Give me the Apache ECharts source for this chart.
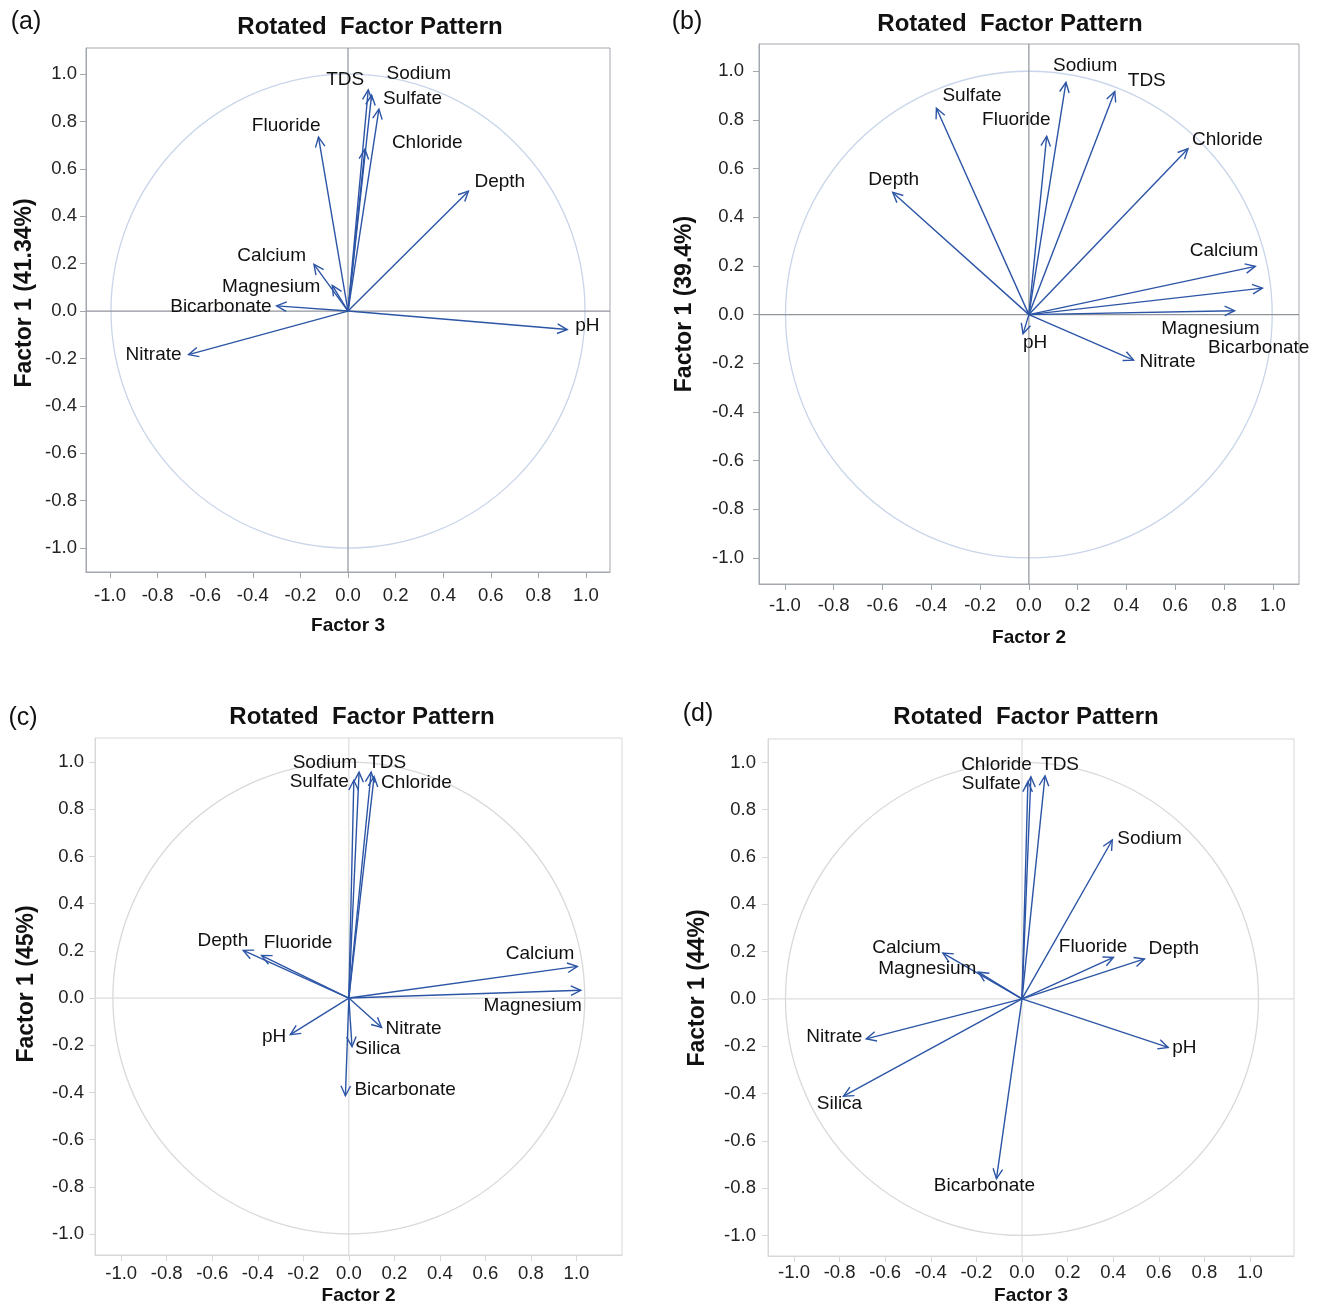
<!DOCTYPE html>
<html>
<head>
<meta charset="utf-8">
<script src="https://cdn.jsdelivr.net/npm/echarts@6/dist/echarts.min.js"></script>
<style>
html, body { margin: 0; padding: 0; background: #fff; }
#main { width: 1320px; height: 1307px; }
</style>
</head>
<body>
<div id="main"></div>
<script>
// tick values shared by every axis
const ticks = [-1.0, -0.8, -0.6, -0.4, -0.2, 0.0, 0.2, 0.4, 0.6, 0.8, 1.0]

// (a) Factor 3 (x) vs Factor 1 (y)
const namesA = ['TDS', 'Sodium', 'Sulfate', 'Chloride', 'Fluoride', 'Depth', 'Calcium', 'Magnesium', 'Bicarbonate', 'Nitrate', 'pH']
const xA = [0.085, 0.099, 0.130, 0.071, -0.124, 0.506, -0.143, -0.066, -0.300, -0.670, 0.921]
const yA = [0.933, 0.911, 0.852, 0.683, 0.734, 0.506, 0.197, 0.108, 0.022, -0.184, -0.078]

// (b) Factor 2 (x) vs Factor 1 (y)
const namesB = ['Sodium', 'TDS', 'Sulfate', 'Fluoride', 'Chloride', 'Depth', 'Calcium', 'Magnesium', 'Bicarbonate', 'Nitrate', 'pH']
const xB = [0.152, 0.352, -0.379, 0.073, 0.652, -0.558, 0.928, 0.843, 0.957, 0.429, -0.024]
const yB = [0.954, 0.917, 0.848, 0.733, 0.682, 0.502, 0.198, 0.016, 0.109, -0.187, -0.079]

// (c) Factor 2 (x) vs Factor 1 (y)
const namesC = ['Sodium', 'TDS', 'Sulfate', 'Chloride', 'Depth', 'Fluoride', 'Calcium', 'Magnesium', 'pH', 'Nitrate', 'Silica', 'Bicarbonate']
const xC = [0.045, 0.098, 0.022, 0.111, -0.464, -0.383, 1.004, 1.019, -0.257, 0.144, 0.014, -0.015]
const yC = [0.957, 0.957, 0.923, 0.938, 0.202, 0.180, 0.134, 0.033, -0.155, -0.125, -0.206, -0.414]

// (d) Factor 3 (x) vs Factor 1 (y)
const namesD = ['Chloride', 'TDS', 'Sulfate', 'Sodium', 'Fluoride', 'Depth', 'Calcium', 'Magnesium', 'Nitrate', 'Silica', 'Bicarbonate', 'pH']
const xD = [0.039, 0.101, 0.026, 0.396, 0.401, 0.537, -0.347, -0.191, -0.683, -0.783, -0.112, 0.641]
const yD = [0.939, 0.943, 0.918, 0.672, 0.176, 0.169, 0.194, 0.113, -0.169, -0.411, -0.760, -0.205]

const FONT = '"Liberation Sans", Arial, sans-serif'
const ARROW = '#2c55a6'

// 标签位置: [align, dx, dy] 相对箭头尖端 (px)
const placeA = {
  TDS: ['right', -4, -10], Sodium: ['left', 15, -21], Sulfate: ['left', 4, -10],
  Chloride: ['left', 27, -6], Fluoride: ['right', 2, -11], Depth: ['left', 6, -9],
  Calcium: ['right', -8, -9], Magnesium: ['right', -12, 1], Bicarbonate: ['right', -5, 1],
  Nitrate: ['right', -7, 0], pH: ['left', 8, -4]
}
const placeB = {
  Sodium: ['left', -13, -17], TDS: ['left', 13, -11], Sulfate: ['left', 6, -12],
  Fluoride: ['right', 4, -16], Chloride: ['left', 4, -9], Depth: ['center', 1, -13],
  Calcium: ['right', 3, -16], Magnesium: ['right', 25, 18], Bicarbonate: ['right', 47, 60],
  Nitrate: ['left', 6, 2], pH: ['left', 0, 9]
}
const placeC = {
  Sodium: ['right', -2, -9], TDS: ['left', -3, -9], Sulfate: ['right', -5, 2],
  Chloride: ['left', 7, 6], Depth: ['right', 5, -10], Fluoride: ['left', 2, -13],
  Calcium: ['right', -3, -13], Magnesium: ['right', 1, 16], pH: ['right', -4, 2],
  Nitrate: ['left', 4, 1], Silica: ['left', 3, 2], Bicarbonate: ['left', 9, -6]
}
const placeD = {
  Chloride: ['right', 1, -12], TDS: ['left', -4, -11], Sulfate: ['right', -7, 2],
  Sodium: ['left', 5, -1], Fluoride: ['right', 14, -11], Depth: ['left', 4, -10],
  Calcium: ['right', -2, -5], Magnesium: ['right', -2, -3], Nitrate: ['right', -4, -2],
  Silica: ['center', -4, 8], Bicarbonate: ['center', -12, 7], pH: ['left', 4, 0]
}

const panels = [
  { grid: { left: 86, top: 48, width: 524, height: 524 }, x: [-1.101, 1.101], y: [-1.101, 1.110],
    xName: 'Factor 3', yName: 'Factor 1 (41.34%)', names: namesA, xs: xA, ys: yA, place: placeA,
    frame: '#a3a7ae', zero: '#8f949c', circle: '#c9d5ea', lblX: 14, gapX: 44, lblY: 9, gapY: 50, padY: 34 },
  { grid: { left: 759, top: 44, width: 540, height: 540 }, x: [-1.106, 1.107], y: [-1.107, 1.112],
    xName: 'Factor 2', yName: 'Factor 1 (39.4%)', names: namesB, xs: xB, ys: yB, place: placeB,
    frame: '#a3a7ae', zero: '#8f949c', circle: '#c9d5ea', lblX: 12, gapX: 44, lblY: 15, gapY: 63, padY: 20 },
  { grid: { left: 95, top: 738, width: 527, height: 517 }, x: [-1.115, 1.200], y: [-1.089, 1.102],
    xName: 'Factor 2', yName: 'Factor 1 (45%)', names: namesC, xs: xC, ys: yC, place: placeC,
    frame: '#d8d8d8', zero: '#dcdcdc', circle: '#d9d9d9', lblX: 9, gapX: 31, lblY: 11, gapY: 57, padY: 25 },
  { grid: { left: 768, top: 739, width: 526, height: 517 }, x: [-1.114, 1.193], y: [-1.087, 1.099],
    xName: 'Factor 3', yName: 'Factor 1 (44%)', names: namesD, xs: xD, ys: yD, place: placeD,
    frame: '#d8d8d8', zero: '#dcdcdc', circle: '#d9d9d9', lblX: 7, gapX: 30, lblY: 12, gapY: 59, padY: 19 }
]

// 标题与面板编号
const heads = [
  { tag: '(a)', tx: 26, ty: 22, title: 370, titleY: 27 },
  { tag: '(b)', tx: 687, ty: 22, title: 1010, titleY: 24 },
  { tag: '(c)', tx: 23, ty: 718, title: 362, titleY: 717 },
  { tag: '(d)', tx: 698, ty: 714, title: 1026, titleY: 717 }
]

function fmt(v) {
  return (Math.abs(v) < 1e-9 ? 0 : v).toFixed(1)
}

function makeX(p, i) {
  return {
    type: 'value', gridIndex: i, min: p.x[0], max: p.x[1],
    name: p.xName, nameLocation: 'middle', nameGap: p.gapX,
    nameTextStyle: { fontFamily: FONT, fontSize: 19, fontWeight: 'bold', color: '#111' },
    axisLine: { show: true, onZero: false, lineStyle: { color: p.frame } },
    axisTick: { show: true, length: 6, customValues: ticks, lineStyle: { color: p.frame } },
    axisLabel: { customValues: ticks, formatter: fmt, fontFamily: FONT, fontSize: 18.5, color: '#222', margin: p.lblX },
    splitLine: { show: false }
  }
}

function makeY(p, i) {
  return {
    type: 'value', gridIndex: i, min: p.y[0], max: p.y[1],
    name: p.yName, nameLocation: 'middle', nameGap: p.gapY,
    nameTextStyle: { fontFamily: FONT, fontSize: 23, fontWeight: 'bold', color: '#111', padding: [0, 0, 0, p.padY] },
    axisLine: { show: true, onZero: false, lineStyle: { color: p.frame } },
    axisTick: { show: true, length: 6, customValues: ticks, lineStyle: { color: p.frame } },
    axisLabel: { customValues: ticks, formatter: fmt, fontFamily: FONT, fontSize: 18.5, color: '#222', margin: p.lblY },
    splitLine: { show: false }
  }
}

// 单位圆 + 零线
function makeDeco(p, i) {
  return {
    type: 'custom', xAxisIndex: i, yAxisIndex: i, silent: true, z: 1,
    data: [[0, 0]],
    renderItem: function(params, api) {
      const o = api.coord([0, 0])
      const r = api.size([0, 1])[1]
      const cs = params.coordSys
      return {
        type: 'group',
        children: [
          { type: 'circle', shape: { cx: o[0], cy: o[1], r: r }, style: { stroke: p.circle, fill: null, lineWidth: 1.3 } },
          { type: 'line', shape: { x1: cs.x, y1: o[1], x2: cs.x + cs.width, y2: o[1] }, style: { stroke: p.zero, lineWidth: 1.2 } },
          { type: 'line', shape: { x1: o[0], y1: cs.y, x2: o[0], y2: cs.y + cs.height }, style: { stroke: p.zero, lineWidth: 1.2 } }
        ]
      }
    }
  }
}

// 箭头 + 变量名
function makeArrows(p, i) {
  return {
    type: 'custom', xAxisIndex: i, yAxisIndex: i, silent: true, z: 3, clip: false,
    data: p.xs.map((v, k) => [v, p.ys[k]]),
    encode: { x: 0, y: 1 },
    renderItem: function(params, api) {
      const o = api.coord([0, 0])
      const t = api.coord([api.value(0), api.value(1)])
      const ang = Math.atan2(t[1] - o[1], t[0] - o[0])
      const L = 11
      const A = 0.45
      const h1 = [t[0] - L * Math.cos(ang - A), t[1] - L * Math.sin(ang - A)]
      const h2 = [t[0] - L * Math.cos(ang + A), t[1] - L * Math.sin(ang + A)]
      const name = p.names[params.dataIndex]
      const lp = p.place[name]
      return {
        type: 'group',
        children: [
          { type: 'line', shape: { x1: o[0], y1: o[1], x2: t[0], y2: t[1] }, style: { stroke: ARROW, lineWidth: 1.4 } },
          { type: 'polyline', shape: { points: [h1, t, h2] }, style: { stroke: ARROW, fill: null, lineWidth: 1.4 } },
          { type: 'text', x: t[0] + lp[1], y: t[1] + lp[2],
            style: { text: name, align: lp[0], verticalAlign: 'middle', fontFamily: FONT, fontSize: 19, fill: '#111' } }
        ]
      }
    }
  }
}

const chart = echarts.init(document.getElementById('main'), null, { renderer: 'canvas' })

const graphics = []
heads.forEach(h => {
  graphics.push({ type: 'text', x: h.tx, y: h.ty,
    style: { text: h.tag, align: 'center', verticalAlign: 'middle', fontFamily: FONT, fontSize: 25, fill: '#111' } })
  graphics.push({ type: 'text', x: h.title, y: h.titleY,
    style: { text: 'Rotated  Factor Pattern', align: 'center', verticalAlign: 'middle', fontFamily: FONT, fontSize: 24, fontWeight: 'bold', fill: '#111' } })
})

const option = {
  backgroundColor: '#fff',
  animation: false,
  grid: panels.map(p => Object.assign({ show: true, borderColor: p.frame, borderWidth: 1, backgroundColor: 'transparent' }, p.grid)),
  xAxis: panels.map(makeX),
  yAxis: panels.map(makeY),
  graphic: graphics,
  series: panels.map(makeDeco).concat(panels.map(makeArrows))
}

chart.setOption(option)
</script>
</body>
</html>
